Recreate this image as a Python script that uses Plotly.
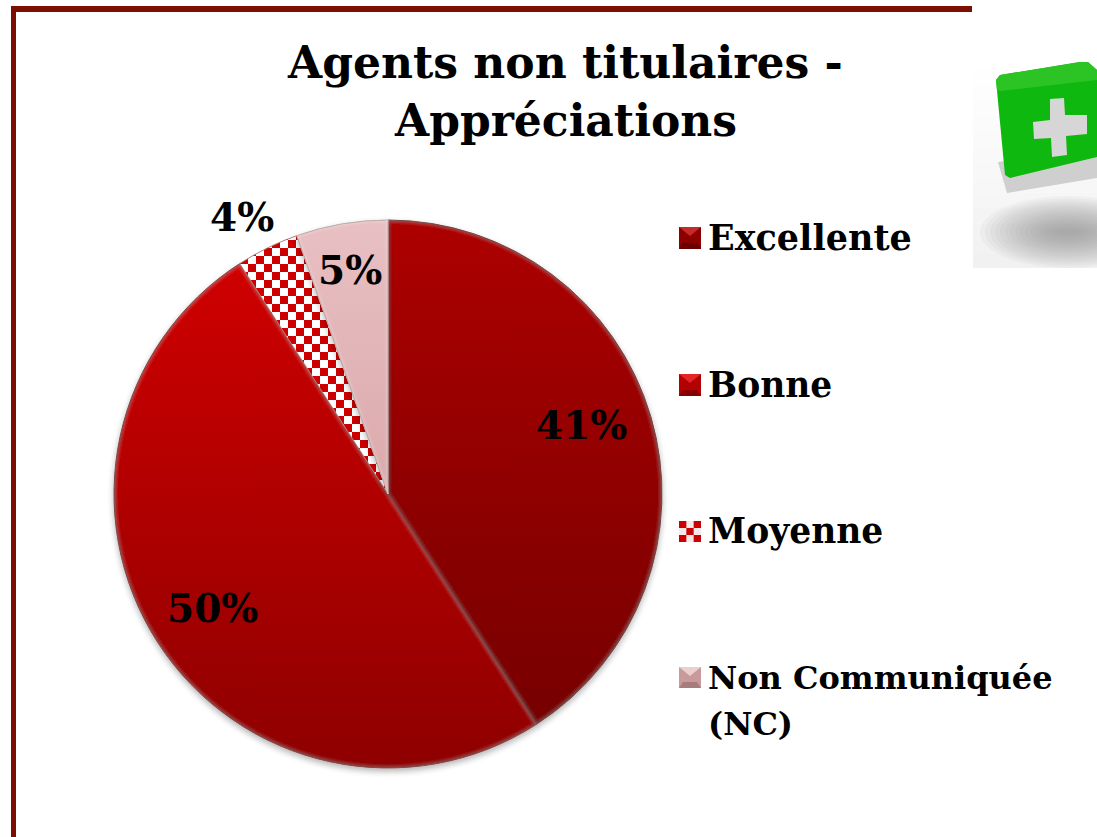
import plotly.graph_objects as go

W, H = 1097, 837
categories = ["Excellente", "Bonne", "Moyenne", "Non Communiquée (NC)"]
legend_lines = [["Excellente"], ["Bonne"], ["Moyenne"], ["Non Communiquée", "(NC)"]]
legend_sizes = [35, 34.5, 34.5, 32]
values = [40.9, 50.0, 3.7, 5.4]
flat_colors = ["#960000", "#bb0000", "#e9a0a0", "#dcaeb0"]
edge_colors = ["#5a0000", "#6a0000", "#b08080", "#a08080"]
title_lines = ["Agents non titulaires -", "Appréciations"]
FONT = "DejaVu Serif"
DARK = "#7c0e02"

def px(x): return x / W
def py(y): return 1 - y / H

def rect(x0, y0, x1, y1, color, layer="below"):
    return dict(type="rect", xref="paper", yref="paper", x0=px(x0), x1=px(x1), y0=py(y0), y1=py(y1),
                fillcolor=color, line=dict(width=0), layer=layer)

def poly(points, color, layer="below"):
    d = "M " + " L ".join(f"{px(a):.5f},{py(b):.5f}" for a, b in points) + " Z"
    return dict(type="path", xref="paper", yref="paper", path=d, fillcolor=color, line=dict(width=0), layer=layer)

def ellipse(cx, cy, rx, ry, color):
    return dict(type="circle", xref="paper", yref="paper", x0=px(cx-rx), x1=px(cx+rx), y0=py(cy-ry), y1=py(cy+ry),
                fillcolor=color, line=dict(width=0), layer="below")

shapes = [rect(11, 6, 972, 12, DARK), rect(11, 6, 16, 837, DARK)]

# picture at upper right
for i in range(14):
    y0 = 55 + i * 15.3
    g = 255 - int(i * 1.1)
    shapes.append(rect(973, y0, 1097, min(y0 + 15.3, 268), f"rgb({g},{g},{g})"))
for k in range(16):
    shapes.append(ellipse(1068, 232, 88 - k * 5, 36 - k * 2.2, "rgba(120,120,120,0.055)"))
shapes += [
    poly([(998, 162), (1007, 193), (1097, 178), (1097, 150)], "#cfcfcf"),
    poly([(996, 80), (1000, 75), (1080, 62), (1088, 62), (1097, 70), (1097, 157), (1010, 178), (1005, 175)], "#0fb80f"),
    poly([(996, 80), (1000, 75), (1080, 62), (1088, 62), (1097, 70), (1097, 80), (1000, 91), (997, 90)], "#2cc424"),
    poly([(1050, 99), (1064, 98), (1065, 115), (1087, 115), (1087, 134), (1066, 136), (1067, 155), (1052, 157),
          (1051, 138), (1034, 139), (1033, 122), (1050, 120)], "#d6d6d6"),
]

swatch_y = [(227, 249), (374, 396), (521, 542), (667, 688)]
swatch_tones = [("#c62a2a", "#8c0000", "#6a0000"), ("#e52525", "#b30000", "#860000"),
                None, ("#ecd0d0", "#c89a9a", "#a67c7c")]
for (y0, y1), tone in zip(swatch_y, swatch_tones):
    x0, x1 = 679, 701
    if tone is None:
        shapes.append(rect(x0, y0, x1, y1, "#f4e8e8", "above"))
        for r in range(3):
            for c in range(3):
                if (r + c) % 2 == 0:
                    shapes.append(rect(x0 + c*7.33, y0 + r*7, x0 + (c+1)*7.33, y0 + (r+1)*7, "#cc0000", "above"))
        continue
    hi, mid, lo = tone
    shapes.append(rect(x0, y0, x1, y1, mid, "above"))
    shapes.append(poly([(x0, y0), (x1, y0), ((x0+x1)/2, y0+9)], hi, "above"))
    shapes.append(poly([(x0, y1), (x1, y1), (x1-4, y1-6), (x0+4, y1-6)], lo, "above"))

def note(text, x, y, size, anchor="center"):
    return dict(text=f"<b>{text}</b>", x=px(x), y=py(y), xref="paper", yref="paper", xanchor=anchor,
                yanchor="middle", showarrow=False, font=dict(family=FONT, size=size, color="#000"))

annotations = []
legend_y = [238, 385, 531, 678]
for lines, y, size in zip(legend_lines, legend_y, legend_sizes):
    for j, line in enumerate(lines):
        annotations.append(note(line, 706, y + j * 46, size, "left"))
label_pos = [(581, 425), (212, 608), (242, 217), (350, 270)]
for v, (x, y) in zip(values, label_pos):
    annotations.append(note(f"{round(v)}%", x, y, 39))
for line, y in zip(title_lines, [62, 120]):
    annotations.append(note(line, 565, y, 44))

fig = go.Figure(go.Pie(
    labels=categories, values=values, sort=False, direction="clockwise", rotation=0,
    textinfo="none", showlegend=False, marker=dict(colors=flat_colors, line=dict(color=edge_colors, width=1)),
    domain=dict(x=[px(388-274), px(388+274)], y=[py(494+274), py(494-274)]),
))
fig.update_layout(width=W, height=H, margin=dict(l=0, r=0, t=0, b=0), paper_bgcolor="white",
                  shapes=shapes, annotations=annotations)

post = """
document.body.style.margin='0';
var gd=document.getElementById('{plot_id}');
var svg=gd.querySelector('.main-svg');
var ns='http://www.w3.org/2000/svg';
var defs=document.createElementNS(ns,'defs');
function filt(id,op){return `<filter id="${id}" x="-5%" y="-5%" width="110%" height="110%">
<feGaussianBlur in="SourceAlpha" stdDeviation="2" result="b"/>
<feComposite in="SourceAlpha" in2="b" operator="out" result="edge"/>
<feFlood flood-color="#fff" flood-opacity="${op}"/><feComposite in2="edge" operator="in" result="hl"/>
<feGaussianBlur in="SourceAlpha" stdDeviation="3"/><feOffset dy="3"/><feComponentTransfer result="sh"><feFuncA type="linear" slope="0.3"/></feComponentTransfer>
<feMerge><feMergeNode in="sh"/><feMergeNode in="SourceGraphic"/><feMergeNode in="hl"/></feMerge>
</filter>`;}
defs.innerHTML=`
<linearGradient id="g0" x1="0" y1="0" x2="0" y2="1"><stop offset="0" stop-color="#ad0000"/><stop offset="1" stop-color="#760000"/></linearGradient>
<linearGradient id="g1" x1="0" y1="0" x2="0" y2="1"><stop offset="0" stop-color="#cf0000"/><stop offset="1" stop-color="#8e0000"/></linearGradient>
<linearGradient id="g3" x1="0" y1="0" x2="0" y2="1"><stop offset="0" stop-color="#e8c0c3"/><stop offset="1" stop-color="#dba9ac"/></linearGradient>
<pattern id="g2" width="16" height="16" patternUnits="userSpaceOnUse"><rect width="16" height="16" fill="#fff"/><rect width="8" height="8" fill="#cc0000"/><rect x="8" y="8" width="8" height="8" fill="#cc0000"/></pattern>`+filt('bevD',0.15)+filt('bevL',0.6);
svg.insertBefore(defs,svg.firstChild);
gd.querySelectorAll('.slice path.surface').forEach(function(p,i){
  p.style.setProperty('fill','url(#g'+i+')');
  if(i==3){p.setAttribute('filter','url(#bevL)');}
  else if(i!=2){p.setAttribute('filter','url(#bevD)');}
});
"""
fig.write_html("out.html", post_script=post, config={"displayModeBar": False})
